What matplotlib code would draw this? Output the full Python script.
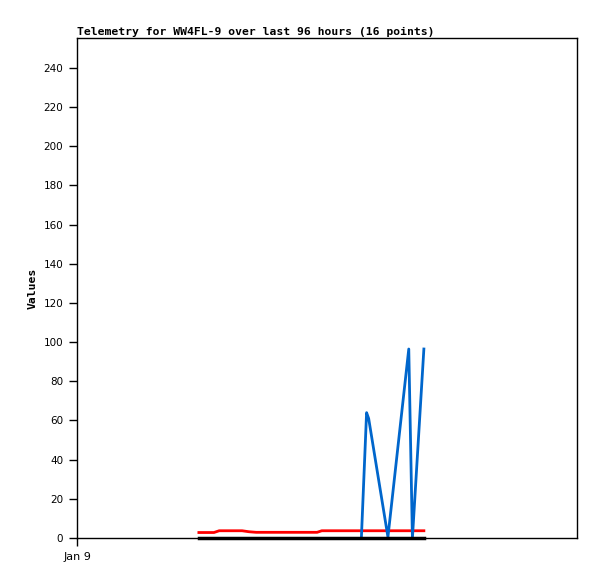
import matplotlib
matplotlib.use("Agg")
import matplotlib.pyplot as plt

# hours since Jan 9 00:00
hours_red = [23.4, 26.3, 27.3, 31.7, 33.0, 34.4, 40.9, 46.1, 47.0, 54.7, 55.6, 59.7, 63.7, 64.5, 66.6]
red_vals = [2.8, 2.8, 3.7, 3.7, 3.2, 2.9, 2.9, 2.9, 3.7, 3.7, 3.7, 3.7, 3.7, 3.7, 3.7]

hours_blue = [54.6, 55.6, 56.0, 59.7, 63.7, 64.4, 66.6]
blue_vals = [0, 64, 61, 0.5, 96.5, 0, 96.5]

hours_black = [23.4, 66.6]
black_vals = [0, 0]

title = "Telemetry for WW4FL-9 over last 96 hours (16 points)"

fig = plt.figure(figsize=(5.97, 5.79), dpi=100)
ax = fig.add_axes([77 / 597, 41 / 579, 500 / 597, 500 / 579])

ax.plot(hours_red, red_vals, color="#ff0000", lw=2)
ax.plot(hours_blue, blue_vals, color="#0066cc", lw=2)
ax.plot(hours_black, black_vals, color="#000000", lw=2.5, clip_on=False)

ax.set_xlim(0, 96)
ax.set_ylim(0, 255.3)
ax.set_yticks(range(0, 241, 20))
ax.set_xticks([0])
ax.set_xticklabels(["Jan 9"])

ax.tick_params(direction="out", length=6, width=1, labelsize=7.5, pad=4)
ax.tick_params(axis="x", labelsize=8)
for s in ax.spines.values():
    s.set_linewidth(1)

ax.set_title(title, loc="left", fontsize=8.2, fontweight="bold",
             family="DejaVu Sans Mono", pad=2)
ax.set_ylabel("Values", fontsize=8.2, fontweight="bold", family="DejaVu Sans Mono",
              labelpad=4)

fig.savefig("out.png", dpi=100)
